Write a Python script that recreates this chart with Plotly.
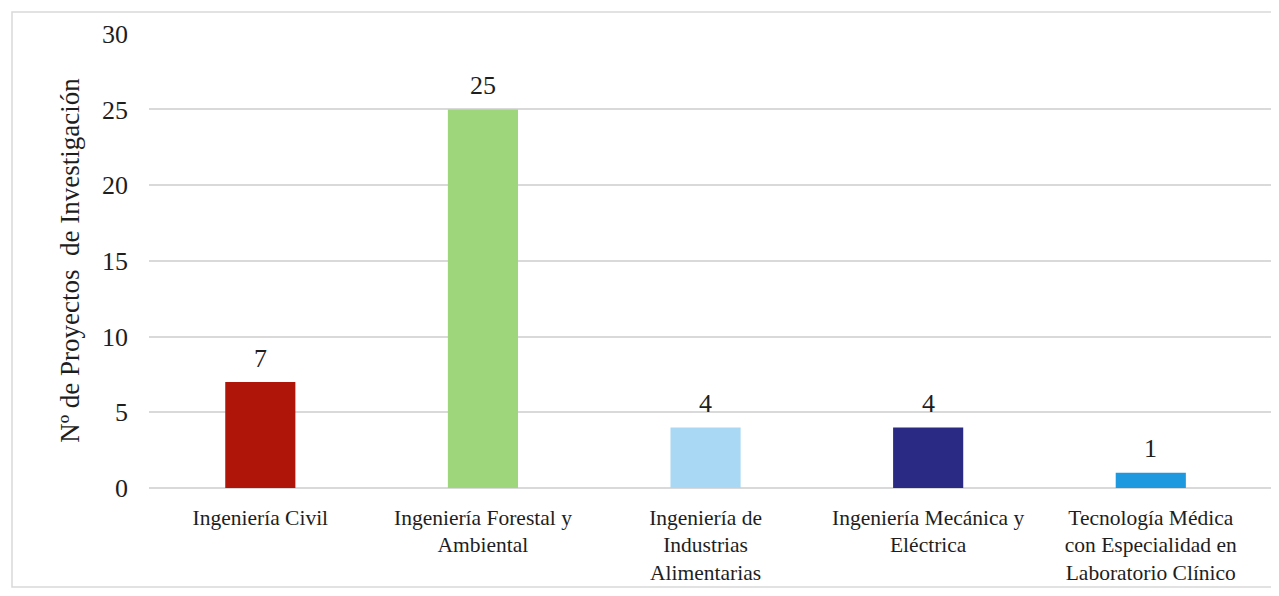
import plotly.graph_objects as go

categories = [
    "Ingeniería Civil",
    "Ingeniería Forestal y<br>Ambiental",
    "Ingeniería de<br>Industrias<br>Alimentarias",
    "Ingeniería Mecánica y<br>Eléctrica",
    "Tecnología Médica<br>con Especialidad en<br>Laboratorio Clínico",
]
values = [7, 25, 4, 4, 1]
colors = ["#B01509", "#9ED67B", "#A9D8F4", "#2A2A84", "#1E98DE"]
y_ticks = [0, 5, 10, 15, 20, 25, 30]

font_family = "Liberation Serif, Times New Roman, serif"
text_color = "#1E1E1E"

fig = go.Figure(
    go.Bar(
        x=categories,
        y=values,
        marker=dict(color=colors, line=dict(width=0)),
        cliponaxis=False,
        width=0.315,
    )
)

for cat, val in zip(categories, values):
    fig.add_annotation(
        x=cat,
        y=val,
        text=str(val),
        showarrow=False,
        yanchor="middle",
        yshift=24,
        font=dict(family=font_family, size=26, color=text_color),
    )

fig.update_layout(
    width=1263,
    height=588,
    margin=dict(l=141, r=0, t=25, b=108, autoexpand=False),
    paper_bgcolor="white",
    plot_bgcolor="white",
    showlegend=False,
    font=dict(family=font_family, color=text_color),
    xaxis=dict(
        range=[-0.5, 4.54],
        showgrid=False,
        showline=False,
        ticks="",
        ticklabelstandoff=14,
        tickfont=dict(family=font_family, size=21.5, color=text_color),
    ),
    yaxis=dict(
        range=[0, 30.05],
        tickvals=y_ticks,
        showgrid=True,
        gridcolor="#D9D9D9",
        gridwidth=1.5,
        zeroline=True,
        zerolinecolor="#D9D9D9",
        zerolinewidth=1.5,
        showline=False,
        ticks="",
        ticklabelstandoff=20,
        tickfont=dict(family=font_family, size=26, color=text_color),
        title=dict(
            text="Nº de Proyectos\u00a0 de Investigación",
            font=dict(family=font_family, size=27, color=text_color),
            standoff=14,
        ),
    ),
    shapes=[
        dict(
            type="rect",
            xref="paper",
            yref="paper",
            x0=-0.1221,
            x1=1.0045,
            y0=-0.2176,
            y1=1.046,
            line=dict(color="#D9D9D9", width=1.5),
        )
    ],
)

fig.write_html("out.html")
